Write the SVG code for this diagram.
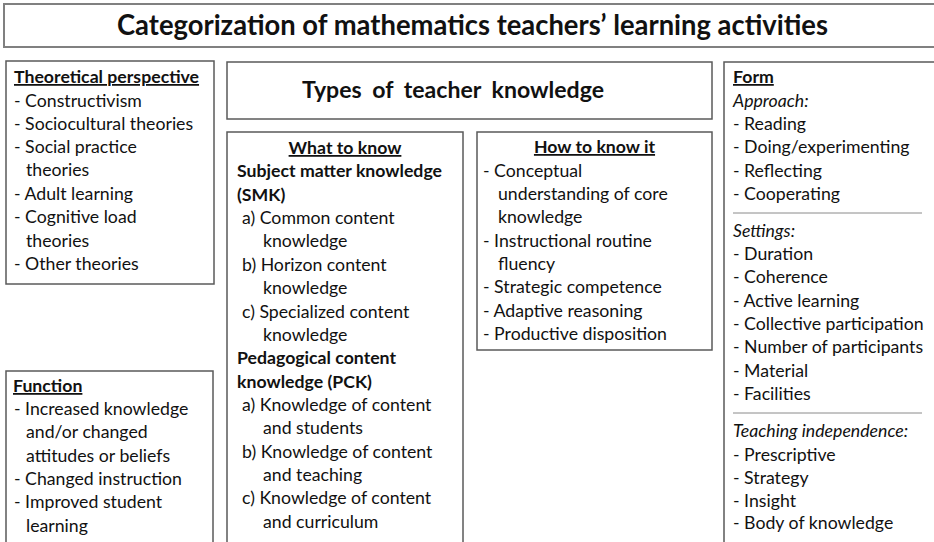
<svg xmlns="http://www.w3.org/2000/svg" width="934" height="542" viewBox="0 0 934 542">
<style>
.box{fill:#fff;stroke:#5a5a5a;stroke-width:1.5}
.tbox{fill:#fff;stroke:#808080;stroke-width:2}
text{font-family:Lato,"Open Sans","Liberation Sans",sans-serif;fill:#111;font-size:17.7px}
.b{font-weight:bold}
.u{text-decoration:underline}
.i{font-style:italic}
.c{text-anchor:middle}
.t1{font-size:28px}
.t2{font-size:23px;word-spacing:5px}
.sep{stroke:#8a8a8a;stroke-width:1}
</style>
<rect width="934" height="542" fill="#fff"/>
<g id="title">
<rect class="tbox" x="4" y="4" width="940" height="43"/>
<text class="b t1" x="117" y="35" textLength="711" lengthAdjust="spacingAndGlyphs">Categorization of mathematics teachers’ learning activities</text>
</g>
<g id="theoretical">
<rect class="box" x="6" y="61" width="208" height="223"/>
<text class="b u" x="14" y="83">Theoretical perspective</text>
<text x="14" y="107">- Constructivism</text>
<text x="14" y="130">- Sociocultural theories</text>
<text x="14" y="153">- Social practice</text>
<text x="26" y="176">theories</text>
<text x="14" y="200">- Adult learning</text>
<text x="14" y="223">- Cognitive load</text>
<text x="26" y="247">theories</text>
<text x="14" y="270">- Other theories</text>
</g>
<g id="function">
<rect class="box" x="6" y="371" width="207" height="180"/>
<text class="b u" x="13" y="392">Function</text>
<text x="14" y="415">- Increased knowledge</text>
<text x="26" y="438">and/or changed</text>
<text x="26" y="462">attitudes or beliefs</text>
<text x="14" y="485">- Changed instruction</text>
<text x="14" y="508">- Improved student</text>
<text x="26" y="532">learning</text>
</g>
<g id="types">
<rect class="box" x="227" y="62" width="485" height="57"/>
<text class="b t2" x="302" y="98" textLength="302" lengthAdjust="spacingAndGlyphs">Types of teacher knowledge</text>
</g>
<g id="what">
<rect class="box" x="227" y="132" width="236" height="420"/>
<text class="b u c" x="345" y="154">What to know</text>
<text class="b" x="237" y="177">Subject matter knowledge</text>
<text class="b" x="237" y="200.5">(SMK)</text>
<text x="242" y="224">a) Common content</text>
<text x="263" y="247">knowledge</text>
<text x="242" y="271">b) Horizon content</text>
<text x="263" y="294">knowledge</text>
<text x="242" y="317.5">c) Specialized content</text>
<text x="263" y="341">knowledge</text>
<text class="b" x="237" y="364">Pedagogical content</text>
<text class="b" x="237" y="387.5">knowledge (PCK)</text>
<text x="242" y="411">a) Knowledge of content</text>
<text x="263" y="434">and students</text>
<text x="242" y="457.5">b) Knowledge of content</text>
<text x="263" y="481">and teaching</text>
<text x="242" y="504">c) Knowledge of content</text>
<text x="263" y="527.5">and curriculum</text>
</g>
<g id="how">
<rect class="box" x="477" y="132" width="235" height="218"/>
<text class="b u c" x="594.5" y="153">How to know it</text>
<text x="483" y="177">- Conceptual</text>
<text x="498" y="200">understanding of core</text>
<text x="498" y="223">knowledge</text>
<text x="483" y="247">- Instructional routine</text>
<text x="498" y="270">fluency</text>
<text x="483" y="293">- Strategic competence</text>
<text x="483" y="317">- Adaptive reasoning</text>
<text x="483" y="340">- Productive disposition</text>
</g>
<g id="form">
<rect class="box" x="724" y="62" width="220" height="490"/>
<text class="b u" x="733" y="83">Form</text>
<text class="i" x="733" y="107">Approach:</text>
<text x="733" y="130">- Reading</text>
<text x="733" y="153">- Doing/experimenting</text>
<text x="733" y="177">- Reflecting</text>
<text x="733" y="200">- Cooperating</text>
<line class="sep" x1="733" y1="213" x2="922" y2="213"/>
<text class="i" x="733" y="237">Settings:</text>
<text x="733" y="260">- Duration</text>
<text x="733" y="283">- Coherence</text>
<text x="733" y="307">- Active learning</text>
<text x="733" y="330">- Collective participation</text>
<text x="733" y="353">- Number of participants</text>
<text x="733" y="377">- Material</text>
<text x="733" y="400">- Facilities</text>
<line class="sep" x1="733" y1="413" x2="922" y2="413"/>
<text class="i" x="733" y="437">Teaching independence:</text>
<text x="733" y="460.5">- Prescriptive</text>
<text x="733" y="483.5">- Strategy</text>
<text x="733" y="507">- Insight</text>
<text x="733" y="529">- Body of knowledge</text>
</g>
<g id="connectors"></g>
</svg>
